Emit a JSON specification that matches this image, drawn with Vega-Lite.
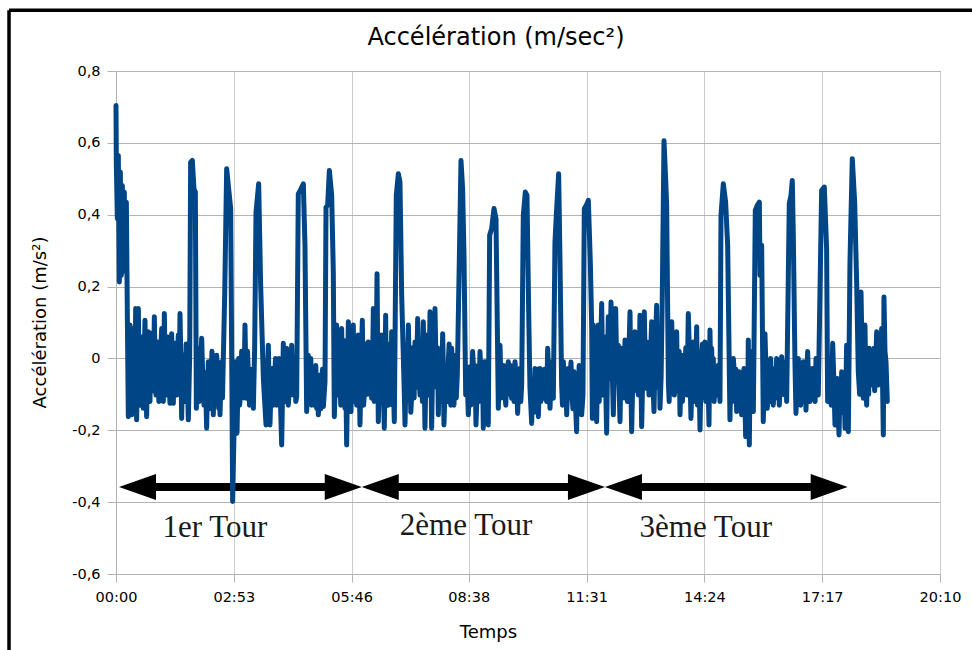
{
  "$schema": "https://vega.github.io/schema/vega-lite/v6.json",
  "autosize": "none",
  "width": 824,
  "height": 503,
  "padding": {"left": 116, "top": 71, "right": 32, "bottom": 76},
  "background": "white",
  "config": {
    "view": {"stroke": "#b3b3b3", "strokeWidth": 1},
    "font": "DejaVu Sans"
  },
  "title": {
    "text": "Accélération (m/sec²)",
    "anchor": "middle",
    "dx": -32,
    "offset": -60,
    "baseline": "alphabetic",
    "font": "DejaVu Sans",
    "fontSize": 24,
    "fontWeight": "normal",
    "color": "#000000"
  },
  "datasets": {
    "acc": [
      {"t":0.0,"a":0.704},{"t":0.5,"a":0.537},{"t":2.0,"a":0.389},{"t":3.4,"a":0.565},{"t":4.9,"a":0.213},{"t":6.4,"a":0.519},{"t":7.8,"a":0.231},{"t":9.3,"a":0.481},{"t":10.8,"a":0.287},{"t":12.2,"a":0.463},{"t":13.7,"a":0.241},{"t":15.2,"a":0.435},{"t":16.6,"a":0.130},{"t":18.1,"a":-0.162},
      {"t":19.3,"a":-0.05},{"t":20.6,"a":0.093},{"t":21.8,"a":-0.10},{"t":23.0,"a":-0.157},{"t":24.7,"a":0.02},{"t":26.4,"a":0.083},{"t":27.6,"a":-0.12},{"t":28.9,"a":0.139},{"t":29.6,"a":0.0},{"t":30.3,"a":-0.171},{"t":31.5,"a":-0.02},{"t":32.8,"a":0.139},{"t":34.0,"a":-0.06},{"t":35.2,"a":-0.130},{"t":36.7,"a":0.06},{"t":38.2,"a":0.028},{"t":39.1,"a":-0.08},{"t":40.1,"a":-0.139},{"t":41.3,"a":0.0},{"t":42.6,"a":0.106},{"t":43.8,"a":-0.05},{"t":45.0,"a":-0.162},{"t":46.2,"a":-0.03},{"t":47.5,"a":0.074},{"t":48.7,"a":-0.07},{"t":49.9,"a":-0.120},{"t":51.4,"a":0.07},{"t":52.9,"a":0.028},{"t":54.6,"a":-0.09},{"t":56.3,"a":0.116},{"t":57.5,"a":-0.02},{"t":58.7,"a":-0.102},{"t":60.0,"a":-0.01},{"t":61.2,"a":0.046},{"t":62.9,"a":-0.12},{"t":64.6,"a":-0.093},{"t":65.8,"a":0.03},{"t":67.1,"a":0.083},{"t":68.3,"a":-0.05},{"t":69.5,"a":-0.120},{"t":70.2,"a":-0.03},{"t":71.0,"a":0.125},{"t":72.2,"a":-0.04},{"t":73.4,"a":-0.102},{"t":74.9,"a":0.06},{"t":76.4,"a":0.028},{"t":77.8,"a":-0.06},{"t":79.3,"a":-0.125},{"t":80.5,"a":0.0},{"t":81.7,"a":0.069},{"t":83.0,"a":-0.05},{"t":84.2,"a":-0.125},{"t":85.4,"a":0.02},{"t":86.6,"a":0.042},{"t":87.8,"a":-0.06},{"t":89.1,"a":-0.102},{"t":90.3,"a":0.01},{"t":91.5,"a":0.065},{"t":92.7,"a":-0.07},{"t":94.0,"a":0.125},{"t":95.2,"a":0.0},{"t":96.4,"a":-0.167},{"t":97.6,"a":-0.04},{"t":98.9,"a":0.009},{"t":100.3,"a":-0.08},{"t":101.8,"a":-0.120},{"t":103.0,"a":0.04},{"t":104.3,"a":-0.009},{"t":105.2,"a":-0.09},{"t":106.2,"a":-0.171},
      {"t":108.2,"a":0.009},{"t":109.6,"a":0.546},{"t":112.1,"a":0.551},{"t":114.5,"a":0.472},{"t":116.5,"a":0.463},
      {"t":118.0,"a":-0.139},{"t":119.2,"a":-0.02},{"t":120.4,"a":0.028},{"t":121.9,"a":-0.12},{"t":123.4,"a":-0.083},{"t":124.6,"a":-0.01},{"t":125.8,"a":0.056},{"t":127.5,"a":-0.06},{"t":129.2,"a":-0.130},{"t":131.1,"a":-0.04},{"t":133.1,"a":-0.194},{"t":134.3,"a":-0.08},{"t":135.6,"a":-0.009},{"t":137.3,"a":-0.14},{"t":139.0,"a":-0.102},{"t":140.9,"a":0.02},{"t":142.9,"a":-0.157},{"t":144.1,"a":-0.07},{"t":145.4,"a":0.000},{"t":146.6,"a":-0.10},{"t":147.8,"a":0.009},{"t":149.3,"a":-0.06},{"t":150.8,"a":-0.139},{"t":151.7,"a":-0.05},{"t":152.7,"a":-0.157},{"t":153.9,"a":-0.08},{"t":155.2,"a":-0.009},{"t":156.4,"a":-0.11},{"t":157.6,"a":0.000},
      {"t":159.6,"a":0.176},{"t":162.5,"a":0.528},{"t":165.4,"a":0.472},{"t":168.4,"a":0.417},{"t":170.3,"a":-0.102},{"t":171.3,"a":-0.398},
      {"t":173.3,"a":-0.204},{"t":174.5,"a":-0.07},{"t":175.7,"a":-0.009},{"t":176.7,"a":-0.10},{"t":177.7,"a":-0.208},{"t":178.9,"a":-0.09},{"t":180.1,"a":0.000},{"t":181.6,"a":-0.13},{"t":183.1,"a":-0.083},{"t":184.5,"a":0.02},{"t":186.0,"a":-0.037},{"t":187.7,"a":-0.11},{"t":189.4,"a":0.093},{"t":190.6,"a":-0.03},{"t":191.9,"a":-0.111},{"t":193.1,"a":0.02},{"t":194.3,"a":-0.037},{"t":196.0,"a":-0.13},{"t":197.7,"a":-0.102},{"t":199.7,"a":-0.03},{"t":201.7,"a":-0.139},{"t":202.6,"a":-0.06},{"t":203.6,"a":0.028},
      {"t":205.6,"a":0.407},{"t":209.5,"a":0.486},{"t":212.4,"a":0.204},
      {"t":216.4,"a":-0.056},{"t":218.3,"a":-0.12},{"t":220.3,"a":-0.185},{"t":222.0,"a":-0.06},{"t":223.7,"a":0.037},{"t":224.9,"a":-0.09},{"t":226.1,"a":-0.185},{"t":227.8,"a":-0.07},{"t":229.6,"a":-0.028},{"t":231.0,"a":-0.13},{"t":232.5,"a":-0.074},{"t":234.2,"a":0.0},{"t":235.9,"a":-0.130},{"t":237.6,"a":-0.06},{"t":239.4,"a":0.000},{"t":241.3,"a":-0.11},{"t":243.3,"a":-0.241},{"t":244.5,"a":-0.10},{"t":245.7,"a":0.042},{"t":246.9,"a":-0.12},{"t":248.2,"a":-0.074},{"t":249.4,"a":0.02},{"t":250.6,"a":0.028},{"t":251.8,"a":-0.09},{"t":253.0,"a":-0.130},{"t":255.5,"a":-0.06},{"t":258.0,"a":0.037},{"t":259.2,"a":-0.05},{"t":260.4,"a":-0.102},{"t":261.6,"a":-0.03},{"t":262.8,"a":-0.009},{"t":264.0,"a":-0.12},{"t":265.3,"a":-0.106},
      {"t":267.7,"a":0.458},{"t":271.7,"a":0.472},{"t":275.1,"a":0.486},{"t":277.5,"a":0.315},
      {"t":280.0,"a":-0.148},{"t":281.2,"a":-0.09},{"t":282.4,"a":0.009},{"t":283.6,"a":-0.10},{"t":284.9,"a":-0.037},{"t":286.1,"a":0.0},{"t":287.3,"a":-0.130},{"t":288.5,"a":-0.09},{"t":289.8,"a":-0.037},{"t":291.0,"a":-0.13},{"t":292.2,"a":-0.056},{"t":293.4,"a":-0.02},{"t":294.7,"a":-0.139},{"t":295.9,"a":-0.07},{"t":297.1,"a":-0.157},{"t":298.3,"a":-0.12},{"t":299.6,"a":-0.046},{"t":300.8,"a":-0.14},{"t":302.0,"a":-0.102},{"t":303.2,"a":-0.03},{"t":304.5,"a":-0.134},{"t":305.7,"a":-0.10},{"t":306.9,"a":-0.065},
      {"t":308.4,"a":0.421},{"t":310.8,"a":0.426},{"t":313.3,"a":0.523},{"t":316.7,"a":0.454},{"t":319.1,"a":0.241},
      {"t":320.6,"a":-0.162},{"t":322.3,"a":-0.05},{"t":324.0,"a":0.093},{"t":325.2,"a":-0.03},{"t":326.5,"a":-0.102},{"t":327.7,"a":0.05},{"t":328.9,"a":-0.074},{"t":330.1,"a":-0.13},{"t":331.4,"a":0.083},{"t":332.6,"a":-0.08},{"t":333.8,"a":-0.009},{"t":335.0,"a":0.05},{"t":336.3,"a":-0.139},{"t":337.5,"a":-0.06},{"t":338.7,"a":-0.241},{"t":339.9,"a":-0.08},{"t":341.2,"a":0.102},{"t":343.1,"a":-0.056},{"t":345.1,"a":-0.148},{"t":346.0,"a":-0.03},{"t":347.0,"a":0.065},{"t":348.5,"a":0.093},{"t":349.7,"a":-0.12},{"t":351.0,"a":-0.065},{"t":352.2,"a":0.02},{"t":353.4,"a":-0.130},{"t":354.6,"a":-0.04},{"t":355.8,"a":0.065},{"t":357.0,"a":-0.05},{"t":358.3,"a":-0.185},{"t":360.0,"a":-0.03},{"t":361.7,"a":0.106},{"t":363.6,"a":-0.13},{"t":365.6,"a":-0.074},{"t":366.8,"a":0.04},{"t":368.1,"a":-0.009},{"t":369.3,"a":-0.10},{"t":370.5,"a":0.046},{"t":371.7,"a":-0.02},{"t":373.0,"a":-0.065},{"t":374.2,"a":0.0},{"t":375.4,"a":-0.111},{"t":376.6,"a":-0.05},{"t":377.9,"a":0.139},{"t":379.1,"a":-0.12},{"t":380.3,"a":-0.028},{"t":381.8,"a":-0.08},{"t":383.3,"a":0.236},{"t":385.2,"a":-0.176},{"t":386.4,"a":-0.08},{"t":387.7,"a":0.009},{"t":388.9,"a":-0.12},{"t":390.1,"a":0.065},{"t":391.3,"a":-0.02},{"t":392.6,"a":-0.083},{"t":394.0,"a":-0.194},{"t":395.0,"a":-0.06},{"t":396.0,"a":0.120},{"t":397.0,"a":-0.12},{"t":397.9,"a":-0.009},{"t":398.9,"a":0.03},{"t":399.9,"a":-0.130},{"t":401.1,"a":0.04},{"t":402.3,"a":-0.028},{"t":403.5,"a":-0.10},{"t":404.8,"a":0.074},{"t":406.0,"a":-0.13},{"t":407.2,"a":-0.065},{"t":408.7,"a":-0.176},
      {"t":411.6,"a":0.454},{"t":414.6,"a":0.514},{"t":417.0,"a":0.491},{"t":419.5,"a":0.176},
      {"t":422.4,"a":-0.028},{"t":423.4,"a":-0.10},{"t":424.4,"a":-0.185},{"t":425.6,"a":-0.07},{"t":426.8,"a":0.037},{"t":428.0,"a":-0.06},{"t":429.3,"a":0.093},{"t":430.5,"a":-0.02},{"t":431.7,"a":-0.056},{"t":432.9,"a":-0.15},{"t":434.2,"a":-0.102},{"t":435.4,"a":0.03},{"t":436.6,"a":-0.009},{"t":437.8,"a":-0.11},{"t":439.1,"a":0.046},{"t":441.0,"a":-0.08},{"t":443.0,"a":0.111},{"t":444.7,"a":-0.03},{"t":446.4,"a":-0.102},{"t":447.6,"a":0.01},{"t":448.8,"a":-0.056},{"t":450.0,"a":-0.12},{"t":451.3,"a":0.102},{"t":452.5,"a":-0.04},{"t":453.7,"a":-0.194},{"t":455.0,"a":-0.06},{"t":456.2,"a":0.065},{"t":457.4,"a":-0.03},{"t":458.6,"a":-0.102},{"t":459.8,"a":-0.04},{"t":461.1,"a":0.130},{"t":462.3,"a":0.0},{"t":463.5,"a":-0.194},{"t":464.7,"a":-0.05},{"t":466.0,"a":0.083},{"t":467.2,"a":-0.08},{"t":468.4,"a":0.139},{"t":469.6,"a":0.02},{"t":470.9,"a":-0.056},{"t":472.1,"a":0.03},{"t":473.3,"a":-0.157},{"t":474.5,"a":-0.07},{"t":475.8,"a":-0.009},{"t":477.7,"a":-0.12},{"t":479.7,"a":0.069},{"t":480.6,"a":-0.02},{"t":481.6,"a":-0.185},{"t":483.1,"a":-0.09},{"t":484.6,"a":-0.037},{"t":486.3,"a":-0.12},{"t":488.0,"a":-0.009},{"t":489.2,"a":0.04},{"t":490.4,"a":-0.083},{"t":491.6,"a":-0.13},{"t":492.9,"a":0.028},{"t":494.6,"a":-0.05},{"t":496.3,"a":-0.130},{"t":497.3,"a":-0.06},{"t":498.3,"a":0.009},{"t":499.7,"a":-0.11},{"t":501.2,"a":-0.046},
      {"t":504.1,"a":0.269},{"t":506.6,"a":0.551},{"t":509.0,"a":0.472},{"t":511.0,"a":0.287},
      {"t":513.5,"a":-0.102},{"t":515.5,"a":-0.05},{"t":517.4,"a":-0.157},{"t":518.6,"a":-0.06},{"t":519.8,"a":-0.023},{"t":521.0,"a":-0.13},{"t":522.3,"a":-0.102},{"t":523.7,"a":0.019},{"t":525.0,"a":-0.03},{"t":526.2,"a":-0.083},{"t":527.4,"a":-0.02},{"t":528.6,"a":-0.185},{"t":530.1,"a":-0.10},{"t":531.6,"a":-0.028},{"t":533.0,"a":-0.12},{"t":534.5,"a":0.019},{"t":535.8,"a":-0.05},{"t":537.0,"a":-0.102},{"t":538.2,"a":-0.04},{"t":539.4,"a":-0.194},{"t":540.4,"a":-0.10},{"t":541.4,"a":-0.009},{"t":542.3,"a":-0.10},{"t":543.3,"a":-0.009},{"t":545.0,"a":-0.09},{"t":546.7,"a":-0.185},
      {"t":548.7,"a":0.343},{"t":551.6,"a":0.361},{"t":555.1,"a":0.417},{"t":558.0,"a":0.389},{"t":560.0,"a":0.083},
      {"t":561.4,"a":-0.139},{"t":562.6,"a":-0.05},{"t":563.9,"a":0.037},{"t":565.8,"a":-0.11},{"t":567.8,"a":-0.083},{"t":569.5,"a":-0.02},{"t":571.2,"a":-0.102},{"t":572.4,"a":-0.13},{"t":573.7,"a":-0.037},{"t":574.9,"a":-0.10},{"t":576.1,"a":-0.009},{"t":577.3,"a":-0.05},{"t":578.5,"a":-0.083},{"t":579.7,"a":-0.02},{"t":581.0,"a":-0.111},{"t":582.2,"a":-0.06},{"t":583.4,"a":-0.056},{"t":584.6,"a":-0.12},{"t":585.9,"a":-0.009},{"t":587.1,"a":-0.04},{"t":588.3,"a":-0.074},{"t":589.8,"a":-0.153},{"t":591.5,"a":-0.06},{"t":593.2,"a":-0.028},{"t":594.4,"a":-0.12},{"t":595.7,"a":-0.074},
      {"t":598.1,"a":0.398},{"t":601.1,"a":0.463},{"t":603.5,"a":0.454},{"t":606.0,"a":0.130},
      {"t":607.9,"a":-0.083},{"t":610.4,"a":-0.181},{"t":611.6,"a":-0.06},{"t":612.8,"a":-0.102},{"t":614.0,"a":-0.15},{"t":615.3,"a":-0.028},{"t":616.5,"a":-0.11},{"t":617.7,"a":-0.056},{"t":618.9,"a":-0.03},{"t":620.2,"a":-0.162},{"t":621.4,"a":-0.08},{"t":622.6,"a":-0.028},{"t":623.8,"a":-0.12},{"t":625.0,"a":-0.083},{"t":626.2,"a":-0.04},{"t":627.5,"a":-0.111},{"t":629.2,"a":-0.03},{"t":630.9,"a":-0.065},{"t":632.4,"a":-0.12},{"t":633.9,"a":0.028},{"t":635.6,"a":-0.06},{"t":637.3,"a":-0.139},{"t":638.7,"a":-0.07},{"t":640.2,"a":-0.009},{"t":641.2,"a":-0.06},{"t":642.2,"a":-0.111},
      {"t":644.6,"a":0.324},{"t":647.1,"a":0.417},{"t":650.0,"a":0.514},{"t":652.0,"a":0.269},
      {"t":654.4,"a":-0.074},{"t":655.6,"a":-0.13},{"t":656.9,"a":-0.009},{"t":658.1,"a":-0.05},{"t":659.3,"a":-0.102},{"t":660.5,"a":-0.03},{"t":661.8,"a":-0.157},{"t":663.0,"a":-0.09},{"t":664.2,"a":-0.028},{"t":665.4,"a":-0.11},{"t":666.7,"a":-0.056},{"t":668.1,"a":-0.01},{"t":669.6,"a":-0.102},{"t":671.0,"a":-0.14},{"t":672.5,"a":-0.037},{"t":673.5,"a":-0.07},{"t":674.5,"a":-0.120},{"t":676.4,"a":-0.204},{"t":677.6,"a":-0.06},{"t":678.9,"a":-0.102},{"t":680.1,"a":-0.02},{"t":681.3,"a":-0.046},{"t":682.5,"a":-0.12},{"t":683.8,"a":-0.157},{"t":685.7,"a":-0.102},
      {"t":687.7,"a":0.417},{"t":690.6,"a":0.426},{"t":693.6,"a":0.440},{"t":696.5,"a":0.269},{"t":698.5,"a":0.093},{"t":699.5,"a":-0.167},
      {"t":700.9,"a":0.093},{"t":702.1,"a":-0.08},{"t":703.4,"a":-0.009},{"t":704.6,"a":0.05},{"t":705.8,"a":-0.176},{"t":707.0,"a":-0.04},{"t":708.3,"a":0.093},{"t":709.5,"a":-0.12},{"t":710.7,"a":-0.056},{"t":711.9,"a":0.05},{"t":713.2,"a":0.153},{"t":714.4,"a":-0.02},{"t":715.6,"a":-0.102},{"t":716.8,"a":0.06},{"t":718.1,"a":0.009},{"t":719.3,"a":-0.10},{"t":720.5,"a":-0.208},{"t":721.7,"a":-0.03},{"t":722.9,"a":0.116},{"t":724.9,"a":-0.056},{"t":726.9,"a":0.157},{"t":728.8,"a":-0.037},{"t":730.3,"a":-0.157},{"t":732.0,"a":0.0},{"t":733.7,"a":0.139},{"t":735.7,"a":-0.065},{"t":737.6,"a":0.037},{"t":738.8,"a":-0.08},{"t":740.1,"a":-0.176},{"t":741.3,"a":-0.06},{"t":742.5,"a":0.028},{"t":743.7,"a":0.02},{"t":745.0,"a":-0.065},{"t":746.2,"a":-0.11},{"t":747.4,"a":0.051},{"t":748.6,"a":0.03},{"t":749.9,"a":-0.074},{"t":751.1,"a":-0.12},{"t":752.3,"a":-0.009},{"t":753.5,"a":0.04},{"t":754.8,"a":0.130},{"t":756.0,"a":-0.06},{"t":757.2,"a":-0.204},{"t":758.4,"a":-0.10},{"t":759.7,"a":-0.009},{"t":760.9,"a":-0.07},{"t":762.1,"a":0.074},{"t":763.3,"a":-0.09},{"t":764.6,"a":0.009},{"t":765.8,"a":0.05},{"t":767.0,"a":-0.102},{"t":768.2,"a":-0.03},{"t":769.4,"a":0.120},{"t":770.6,"a":-0.01},{"t":771.9,"a":-0.190},{"t":773.9,"a":-0.009},{"t":775.8,"a":0.130},{"t":777.8,"a":-0.083},{"t":779.2,"a":0.046},{"t":780.9,"a":0.02},{"t":782.7,"a":-0.102},{"t":784.6,"a":-0.009},{"t":786.6,"a":0.102},{"t":788.5,"a":-0.065},{"t":790.0,"a":-0.148},{"t":792.0,"a":0.037},{"t":793.9,"a":0.148},{"t":795.1,"a":-0.08},{"t":796.4,"a":-0.009},{"t":797.6,"a":0.03},{"t":798.8,"a":-0.139},{"t":800.5,"a":-0.05},
      {"t":802.2,"a":0.176},{"t":804.7,"a":0.606},{"t":807.1,"a":0.500},{"t":808.6,"a":0.426},
      {"t":811.1,"a":-0.065},{"t":812.3,"a":-0.12},{"t":813.5,"a":-0.009},{"t":814.7,"a":-0.09},{"t":816.0,"a":0.102},{"t":818.0,"a":-0.03},{"t":819.9,"a":-0.102},{"t":821.6,"a":-0.04},{"t":823.3,"a":0.074},{"t":824.5,"a":-0.09},{"t":825.7,"a":-0.028},{"t":827.0,"a":0.02},{"t":828.2,"a":-0.157},{"t":829.4,"a":-0.08},{"t":830.6,"a":-0.056},{"t":831.8,"a":-0.12},{"t":833.1,"a":0.009},{"t":834.3,"a":-0.10},{"t":835.5,"a":-0.056},{"t":836.7,"a":0.03},{"t":838.0,"a":-0.102},{"t":839.2,"a":-0.02},{"t":840.4,"a":0.125},{"t":842.4,"a":-0.009},{"t":844.3,"a":-0.167},{"t":846.0,"a":-0.05},{"t":847.8,"a":0.046},{"t":849.0,"a":-0.12},{"t":850.2,"a":-0.065},{"t":851.4,"a":-0.01},{"t":852.7,"a":0.088},{"t":853.9,"a":-0.13},{"t":855.1,"a":-0.074},{"t":856.3,"a":-0.05},{"t":857.6,"a":-0.199},{"t":858.8,"a":-0.08},{"t":860.0,"a":0.009},{"t":861.2,"a":0.04},{"t":862.4,"a":-0.083},{"t":863.6,"a":-0.11},{"t":864.9,"a":0.046},{"t":866.1,"a":-0.12},{"t":867.3,"a":-0.056},{"t":869.0,"a":-0.03},{"t":870.8,"a":-0.185},{"t":872.2,"a":0.079},{"t":873.4,"a":-0.05},{"t":874.7,"a":0.028},{"t":875.9,"a":-0.10},{"t":877.1,"a":0.000},{"t":878.3,"a":-0.12},{"t":879.6,"a":-0.083},{"t":880.8,"a":-0.04},{"t":882.0,"a":-0.102},{"t":883.2,"a":-0.08},{"t":884.5,"a":-0.019},{"t":885.7,"a":-0.05},{"t":886.9,"a":-0.120},
      {"t":888.4,"a":0.398},{"t":891.8,"a":0.486},{"t":895.2,"a":0.435},{"t":898.2,"a":0.315},
      {"t":901.6,"a":-0.171},{"t":902.8,"a":-0.04},{"t":904.1,"a":-0.083},{"t":905.3,"a":-0.12},{"t":906.5,"a":0.000},{"t":908.4,"a":-0.05},{"t":909.4,"a":-0.102},{"t":910.4,"a":-0.03},{"t":911.4,"a":-0.148},{"t":912.3,"a":-0.04},{"t":913.3,"a":-0.083},{"t":914.3,"a":-0.13},{"t":915.3,"a":-0.037},{"t":916.3,"a":-0.09},{"t":917.3,"a":-0.102},{"t":918.7,"a":-0.157},{"t":920.4,"a":-0.07},{"t":922.2,"a":-0.028},{"t":923.4,"a":-0.11},{"t":924.6,"a":-0.218},{"t":925.6,"a":-0.12},{"t":926.6,"a":-0.083},{"t":927.5,"a":-0.15},{"t":928.5,"a":0.051},{"t":930.0,"a":-0.241},{"t":931.0,"a":-0.06},{"t":932.0,"a":-0.102},{"t":933.4,"a":0.019},{"t":934.6,"a":-0.08},{"t":935.9,"a":-0.148},
      {"t":938.8,"a":0.412},{"t":941.7,"a":0.426},{"t":944.7,"a":0.435},{"t":945.7,"a":0.231},{"t":948.1,"a":0.315},
      {"t":950.5,"a":-0.176},{"t":951.7,"a":-0.06},{"t":953.0,"a":0.069},{"t":954.7,"a":-0.05},{"t":956.4,"a":-0.139},{"t":957.6,"a":-0.09},{"t":958.9,"a":-0.056},{"t":960.1,"a":-0.12},{"t":961.3,"a":0.000},{"t":962.3,"a":-0.05},{"t":963.3,"a":-0.102},{"t":964.2,"a":-0.03},{"t":965.2,"a":-0.130},{"t":966.4,"a":-0.07},{"t":967.7,"a":-0.028},{"t":968.9,"a":-0.11},{"t":970.1,"a":0.000},{"t":971.1,"a":-0.05},{"t":972.1,"a":-0.083},{"t":973.0,"a":-0.02},{"t":974.0,"a":-0.130},{"t":975.8,"a":-0.06},{"t":977.5,"a":0.005},{"t":978.7,"a":-0.10},{"t":979.9,"a":-0.046},{"t":981.1,"a":-0.01},{"t":982.4,"a":-0.102},{"t":983.6,"a":-0.05},{"t":984.8,"a":-0.120},
      {"t":988.7,"a":0.431},{"t":991.2,"a":0.454},{"t":993.1,"a":0.495},{"t":994.6,"a":0.343},{"t":997.0,"a":-0.009},
      {"t":998.5,"a":-0.153},{"t":1000.2,"a":-0.07},{"t":1001.9,"a":0.000},{"t":1003.6,"a":-0.08},{"t":1005.4,"a":-0.130},{"t":1006.3,"a":-0.04},{"t":1007.3,"a":-0.056},{"t":1008.3,"a":-0.12},{"t":1009.3,"a":-0.009},{"t":1010.2,"a":-0.06},{"t":1011.2,"a":-0.083},{"t":1012.2,"a":-0.02},{"t":1013.2,"a":-0.144},{"t":1014.4,"a":-0.06},{"t":1015.6,"a":0.019},{"t":1017.3,"a":-0.08},{"t":1019.1,"a":-0.120},{"t":1020.0,"a":-0.03},{"t":1021.0,"a":-0.046},{"t":1022.0,"a":-0.11},{"t":1023.0,"a":-0.028},{"t":1024.2,"a":-0.06},{"t":1025.4,"a":-0.083},{"t":1026.6,"a":-0.12},{"t":1027.9,"a":0.000},{"t":1029.6,"a":-0.06},{"t":1031.3,"a":-0.102},
      {"t":1036.2,"a":0.468},{"t":1040.1,"a":0.477},{"t":1043.5,"a":0.306},
      {"t":1045.0,"a":-0.120},{"t":1046.7,"a":-0.05},{"t":1048.4,"a":-0.111},{"t":1050.4,"a":-0.13},{"t":1052.4,"a":0.042},{"t":1054.1,"a":-0.06},{"t":1055.8,"a":-0.185},{"t":1057.5,"a":-0.09},{"t":1059.2,"a":-0.056},{"t":1060.4,"a":-0.15},{"t":1061.7,"a":-0.213},{"t":1062.6,"a":-0.13},{"t":1063.6,"a":-0.083},{"t":1064.6,"a":-0.15},{"t":1065.6,"a":-0.037},{"t":1066.8,"a":-0.12},{"t":1068.0,"a":-0.102},{"t":1069.2,"a":-0.06},{"t":1070.5,"a":-0.194},{"t":1071.7,"a":-0.10},{"t":1072.9,"a":0.037},{"t":1074.1,"a":-0.09},{"t":1075.4,"a":-0.204},
      {"t":1077.8,"a":0.269},{"t":1081.2,"a":0.556},{"t":1084.7,"a":0.435},{"t":1087.6,"a":0.213},
      {"t":1090.0,"a":-0.037},{"t":1092.0,"a":-0.10},{"t":1094.0,"a":0.185},{"t":1095.7,"a":0.0},{"t":1097.4,"a":-0.111},{"t":1098.6,"a":-0.02},{"t":1099.8,"a":0.093},{"t":1101.0,"a":-0.05},{"t":1102.3,"a":-0.130},{"t":1103.3,"a":-0.05},{"t":1104.3,"a":-0.028},{"t":1105.2,"a":-0.10},{"t":1106.2,"a":0.028},{"t":1107.9,"a":-0.02},{"t":1109.6,"a":-0.074},{"t":1111.4,"a":-0.01},{"t":1113.1,"a":0.028},{"t":1114.0,"a":-0.09},{"t":1115.0,"a":-0.056},{"t":1116.0,"a":0.01},{"t":1117.0,"a":0.074},{"t":1118.2,"a":-0.03},{"t":1119.4,"a":-0.074},{"t":1120.6,"a":0.05},{"t":1121.9,"a":0.009},{"t":1123.1,"a":-0.06},{"t":1124.3,"a":0.083},{"t":1125.5,"a":-0.05},{"t":1126.8,"a":-0.213},{"t":1127.7,"a":0.171},{"t":1129.2,"a":0.02},{"t":1130.7,"a":-0.009},{"t":1132.6,"a":-0.120}
    ],
    "shafts": [
      {"t":30,"t2":335,"a":-0.358},
      {"t":387,"t2":692,"a":-0.358},
      {"t":744,"t2":1048,"a":-0.358}
    ],
    "heads": [
      {"t":4.4,"a":-0.358,"dir":"left"},
      {"t":360.9,"a":-0.358,"dir":"right"},
      {"t":360.9,"a":-0.358,"dir":"left"},
      {"t":718.0,"a":-0.358,"dir":"right"},
      {"t":718.0,"a":-0.358,"dir":"left"},
      {"t":1074.4,"a":-0.358,"dir":"right"}
    ],
    "tours": [
      {"t":145.4,"a":-0.496,"label":"1er Tour"},
      {"t":514.0,"a":-0.491,"label":"2ème Tour"},
      {"t":866.0,"a":-0.496,"label":"3ème Tour"}
    ],
    "frame": [
      {"t":-157.1,"t2":-157.1,"a":0.969,"a2":-0.9},
      {"t":-157.1,"t2":1300,"a":0.969,"a2":0.969}
    ]
  },
  "encoding": {
    "x": {
      "field": "t",
      "type": "quantitative",
      "scale": {"domain": [0, 1210], "nice": false, "zero": false},
      "axis": {
        "values": [0, 173, 346, 518, 691, 864, 1037, 1210],
        "labelExpr": "(floor(datum.value/60) < 10 ? '0' : '') + floor(datum.value/60) + ':' + (datum.value % 60 < 10 ? '0' : '') + (datum.value % 60)",
        "title": "Temps",
        "titleX": 372,
        "titleY": 58,
        "titleBaseline": "middle",
        "titleFont": "DejaVu Sans",
        "titleFontSize": 18,
        "titleFontWeight": "normal",
        "titleColor": "#000000",
        "labelFont": "DejaVu Sans",
        "labelFontSize": 14.5,
        "labelColor": "#000000",
        "labelPadding": 8,
        "labelFlush": false,
        "tickSize": 8,
        "tickColor": "#b3b3b3",
        "domainColor": "#b3b3b3",
        "gridColor": "#cccccc",
        "grid": true
      }
    },
    "y": {
      "field": "a",
      "type": "quantitative",
      "scale": {"domain": [-0.6, 0.8], "nice": false, "zero": false},
      "axis": {
        "values": [-0.6, -0.4, -0.2, 0, 0.2, 0.4, 0.6, 0.8],
        "labelExpr": "abs(datum.value) < 1e-9 ? '0' : (datum.value < 0 ? '-' : '') + replace(format(abs(datum.value), '.1f'), '.', ',')",
        "title": "Accélération (m/s²)",
        "titleX": -76,
        "titleY": 251,
        "titleAngle": -90,
        "titleBaseline": "middle",
        "titleAlign": "center",
        "titleFont": "DejaVu Sans",
        "titleFontSize": 18,
        "titleFontWeight": "normal",
        "titleColor": "#000000",
        "labelFont": "DejaVu Sans",
        "labelFontSize": 14.5,
        "labelColor": "#000000",
        "labelPadding": 7,
        "labelFlush": false,
        "tickSize": 9,
        "tickColor": "#b3b3b3",
        "domainColor": "#b3b3b3",
        "gridColor": "#b3b3b3",
        "grid": true
      }
    }
  },
  "layer": [
    {
      "data": {"name": "frame"},
      "mark": {"type": "rule", "color": "#000000", "strokeWidth": 3.5, "clip": false},
      "encoding": {
        "x2": {"field": "t2"},
        "y2": {"field": "a2"}
      }
    },
    {
      "data": {"name": "shafts"},
      "mark": {"type": "rule", "color": "#000000", "strokeWidth": 8, "strokeCap": "butt"},
      "encoding": {
        "x2": {"field": "t2"}
      }
    },
    {
      "data": {"name": "heads"},
      "mark": {"type": "point", "filled": true, "opacity": 1, "color": "#000000", "size": 1369, "strokeWidth": 0},
      "encoding": {
        "shape": {
          "field": "dir",
          "type": "nominal",
          "scale": {"domain": ["left", "right"], "range": ["M0,0L2,-0.7L2,0.7Z", "M0,0L-2,-0.7L-2,0.7Z"]},
          "legend": null
        }
      }
    },
    {
      "data": {"name": "tours"},
      "mark": {"type": "text", "font": "Liberation Serif", "fontSize": 31, "color": "#1a1a1a", "baseline": "alphabetic", "align": "center"},
      "encoding": {
        "text": {"field": "label", "type": "nominal"}
      }
    },
    {
      "data": {"name": "acc"},
      "mark": {"type": "line", "color": "#004586", "strokeWidth": 5, "strokeJoin": "round", "strokeCap": "round"},
      "encoding": {}
    }
  ]
}
